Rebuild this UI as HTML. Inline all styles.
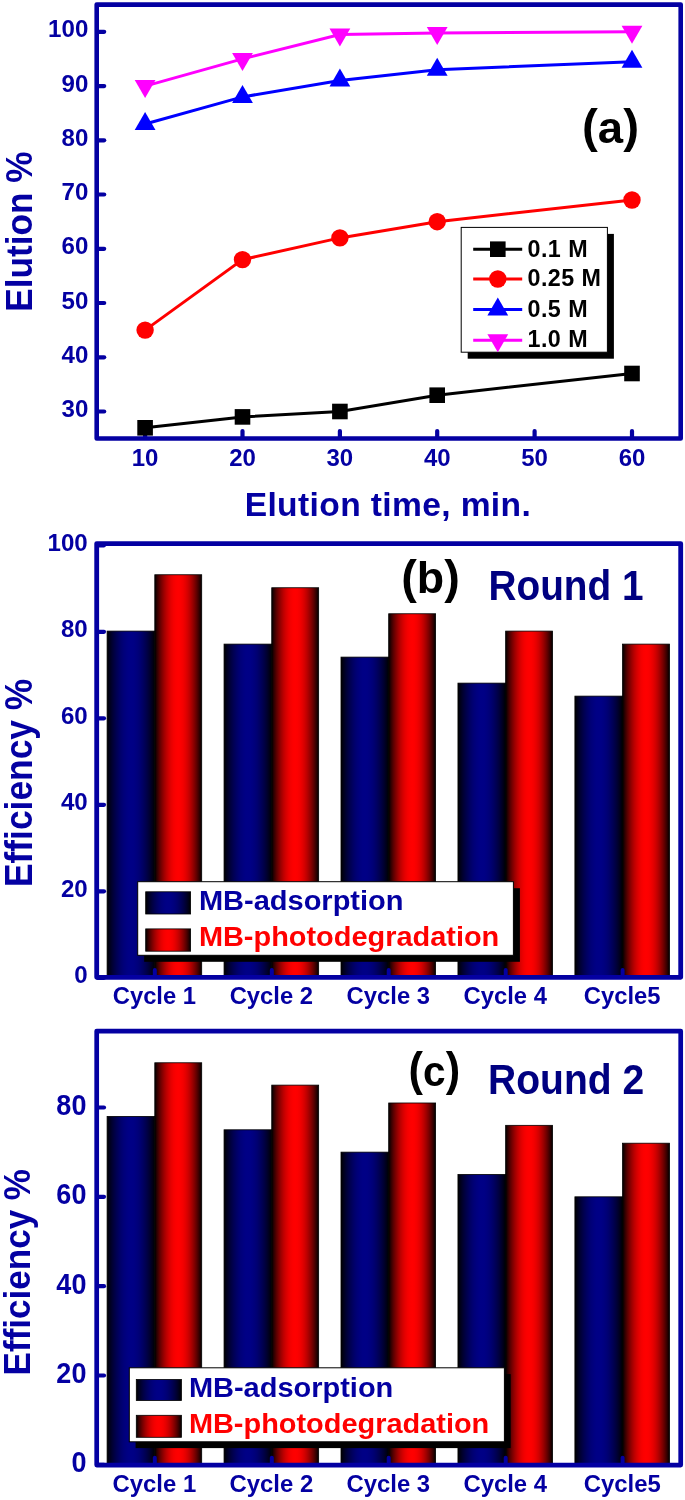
<!DOCTYPE html>
<html lang="en"><head><meta charset="utf-8"><title>Elution and recycling efficiency</title>
<style>html,body{margin:0;padding:0;background:#fff}svg{display:block}text{font-family:'Liberation Sans', sans-serif;font-weight:bold}</style></head><body>
<svg width="685" height="1500" viewBox="0 0 685 1500">
<defs><linearGradient id="gb" x1="0" x2="1" y1="0" y2="0"><stop offset="0.000" stop-color="#000000"/><stop offset="0.050" stop-color="#000019"/><stop offset="0.100" stop-color="#00002f"/><stop offset="0.150" stop-color="#000042"/><stop offset="0.200" stop-color="#000053"/><stop offset="0.250" stop-color="#000062"/><stop offset="0.300" stop-color="#00006f"/><stop offset="0.350" stop-color="#000079"/><stop offset="0.400" stop-color="#000080"/><stop offset="0.450" stop-color="#000085"/><stop offset="0.500" stop-color="#000086"/><stop offset="0.550" stop-color="#000085"/><stop offset="0.600" stop-color="#000080"/><stop offset="0.650" stop-color="#000079"/><stop offset="0.700" stop-color="#00006f"/><stop offset="0.750" stop-color="#000062"/><stop offset="0.800" stop-color="#000053"/><stop offset="0.850" stop-color="#000042"/><stop offset="0.900" stop-color="#00002f"/><stop offset="0.950" stop-color="#000019"/><stop offset="1.000" stop-color="#000000"/></linearGradient><linearGradient id="gr" x1="0" x2="1" y1="0" y2="0"><stop offset="0.000" stop-color="#000000"/><stop offset="0.050" stop-color="#300000"/><stop offset="0.100" stop-color="#590000"/><stop offset="0.150" stop-color="#7d0000"/><stop offset="0.200" stop-color="#9e0000"/><stop offset="0.250" stop-color="#bb0000"/><stop offset="0.300" stop-color="#d30000"/><stop offset="0.350" stop-color="#e60000"/><stop offset="0.400" stop-color="#f40000"/><stop offset="0.450" stop-color="#fc0000"/><stop offset="0.500" stop-color="#ff0000"/><stop offset="0.550" stop-color="#fc0000"/><stop offset="0.600" stop-color="#f40000"/><stop offset="0.650" stop-color="#e60000"/><stop offset="0.700" stop-color="#d30000"/><stop offset="0.750" stop-color="#bb0000"/><stop offset="0.800" stop-color="#9e0000"/><stop offset="0.850" stop-color="#7d0000"/><stop offset="0.900" stop-color="#590000"/><stop offset="0.950" stop-color="#300000"/><stop offset="1.000" stop-color="#000000"/></linearGradient></defs>
<rect width="685" height="1500" fill="#fff"/>
<rect x="96.7" y="4.6" width="584.0" height="433.9" fill="none" stroke="#0400a2" stroke-width="4.6" stroke-linejoin="round"/>
<line x1="97.7" y1="411.5" x2="104.2" y2="411.5" stroke="#0400a2" stroke-width="4.2" stroke-linecap="round"/>
<text transform="translate(88.30 417.00) scale(1.0 0.985)" font-size="24.1" fill="#0400a2" text-anchor="end" >30</text>
<line x1="97.7" y1="357.3" x2="104.2" y2="357.3" stroke="#0400a2" stroke-width="4.2" stroke-linecap="round"/>
<text transform="translate(88.30 362.76) scale(1.0 0.985)" font-size="24.1" fill="#0400a2" text-anchor="end" >40</text>
<line x1="97.7" y1="303.0" x2="104.2" y2="303.0" stroke="#0400a2" stroke-width="4.2" stroke-linecap="round"/>
<text transform="translate(88.30 308.52) scale(1.0 0.985)" font-size="24.1" fill="#0400a2" text-anchor="end" >50</text>
<line x1="97.7" y1="248.8" x2="104.2" y2="248.8" stroke="#0400a2" stroke-width="4.2" stroke-linecap="round"/>
<text transform="translate(88.30 254.28) scale(1.0 0.985)" font-size="24.1" fill="#0400a2" text-anchor="end" >60</text>
<line x1="97.7" y1="194.5" x2="104.2" y2="194.5" stroke="#0400a2" stroke-width="4.2" stroke-linecap="round"/>
<text transform="translate(88.30 200.04) scale(1.0 0.985)" font-size="24.1" fill="#0400a2" text-anchor="end" >70</text>
<line x1="97.7" y1="140.3" x2="104.2" y2="140.3" stroke="#0400a2" stroke-width="4.2" stroke-linecap="round"/>
<text transform="translate(88.30 145.80) scale(1.0 0.985)" font-size="24.1" fill="#0400a2" text-anchor="end" >80</text>
<line x1="97.7" y1="86.1" x2="104.2" y2="86.1" stroke="#0400a2" stroke-width="4.2" stroke-linecap="round"/>
<text transform="translate(88.30 91.56) scale(1.0 0.985)" font-size="24.1" fill="#0400a2" text-anchor="end" >90</text>
<line x1="97.7" y1="31.8" x2="104.2" y2="31.8" stroke="#0400a2" stroke-width="4.2" stroke-linecap="round"/>
<text transform="translate(88.30 37.32) scale(1.0 0.985)" font-size="24.1" fill="#0400a2" text-anchor="end" >100</text>
<line x1="145.1" y1="437.5" x2="145.1" y2="431.0" stroke="#0400a2" stroke-width="4.2" stroke-linecap="round"/>
<text transform="translate(145.10 465.70) scale(1.0 0.985)" font-size="24.0" fill="#0400a2" text-anchor="middle" >10</text>
<line x1="242.5" y1="437.5" x2="242.5" y2="431.0" stroke="#0400a2" stroke-width="4.2" stroke-linecap="round"/>
<text transform="translate(242.48 465.70) scale(1.0 0.985)" font-size="24.0" fill="#0400a2" text-anchor="middle" >20</text>
<line x1="339.9" y1="437.5" x2="339.9" y2="431.0" stroke="#0400a2" stroke-width="4.2" stroke-linecap="round"/>
<text transform="translate(339.86 465.70) scale(1.0 0.985)" font-size="24.0" fill="#0400a2" text-anchor="middle" >30</text>
<line x1="437.2" y1="437.5" x2="437.2" y2="431.0" stroke="#0400a2" stroke-width="4.2" stroke-linecap="round"/>
<text transform="translate(437.24 465.70) scale(1.0 0.985)" font-size="24.0" fill="#0400a2" text-anchor="middle" >40</text>
<line x1="534.6" y1="437.5" x2="534.6" y2="431.0" stroke="#0400a2" stroke-width="4.2" stroke-linecap="round"/>
<text transform="translate(534.62 465.70) scale(1.0 0.985)" font-size="24.0" fill="#0400a2" text-anchor="middle" >50</text>
<line x1="632.0" y1="437.5" x2="632.0" y2="431.0" stroke="#0400a2" stroke-width="4.2" stroke-linecap="round"/>
<text transform="translate(632.00 465.70) scale(1.0 0.985)" font-size="24.0" fill="#0400a2" text-anchor="middle" >60</text>
<polyline points="145.1,427.8 242.5,416.9 339.9,411.5 437.2,395.2 632.0,373.5" fill="none" stroke="#000000" stroke-width="3.0"/>
<rect x="137.3" y="420.0" width="15.6" height="15.6" fill="#000000"/>
<rect x="234.7" y="409.1" width="15.6" height="15.6" fill="#000000"/>
<rect x="332.1" y="403.7" width="15.6" height="15.6" fill="#000000"/>
<rect x="429.4" y="387.4" width="15.6" height="15.6" fill="#000000"/>
<rect x="624.2" y="365.7" width="15.6" height="15.6" fill="#000000"/>
<polyline points="145.1,330.1 242.5,259.6 339.9,237.9 437.2,221.7 632.0,200.0" fill="none" stroke="#ff0000" stroke-width="3.0"/>
<circle cx="145.1" cy="330.1" r="8.7" fill="#ff0000"/>
<circle cx="242.5" cy="259.6" r="8.7" fill="#ff0000"/>
<circle cx="339.9" cy="237.9" r="8.7" fill="#ff0000"/>
<circle cx="437.2" cy="221.7" r="8.7" fill="#ff0000"/>
<circle cx="632.0" cy="200.0" r="8.7" fill="#ff0000"/>
<polyline points="145.1,124.0 242.5,96.9 339.9,80.6 437.2,69.8 632.0,61.7" fill="none" stroke="#0000ff" stroke-width="3.0"/>
<polygon points="134.7,130.0 155.5,130.0 145.1,112.0" fill="#0000ff"/>
<polygon points="232.1,102.9 252.9,102.9 242.5,84.9" fill="#0000ff"/>
<polygon points="329.5,86.6 350.3,86.6 339.9,68.6" fill="#0000ff"/>
<polygon points="426.8,75.8 447.6,75.8 437.2,57.8" fill="#0000ff"/>
<polygon points="621.6,67.7 642.4,67.7 632.0,49.7" fill="#0000ff"/>
<polyline points="145.1,86.1 242.5,58.9 339.9,34.5 437.2,32.9 632.0,31.8" fill="none" stroke="#ff00ff" stroke-width="3.0"/>
<polygon points="134.7,80.1 155.5,80.1 145.1,98.1" fill="#ff00ff"/>
<polygon points="232.1,52.9 252.9,52.9 242.5,70.9" fill="#ff00ff"/>
<polygon points="329.5,28.5 350.3,28.5 339.9,46.5" fill="#ff00ff"/>
<polygon points="426.8,26.9 447.6,26.9 437.2,44.9" fill="#ff00ff"/>
<polygon points="621.6,25.8 642.4,25.8 632.0,43.8" fill="#ff00ff"/>
<text x="387.90" y="516.30" font-size="33.6" fill="#0400a2" text-anchor="middle" letter-spacing="0.37">Elution time, min.</text>
<text transform="translate(31.90 231.60) rotate(-90) scale(1.0 1.06)" font-size="35.2" fill="#0400a2" text-anchor="middle">Elution %</text>
<text x="582.00" y="141.80" fill="#000" textLength="57.0" lengthAdjust="spacingAndGlyphs" font-size="46">(<tspan font-size="44" dy="0.8">a</tspan><tspan dy="-0.8">)</tspan></text>
<rect x="467.7" y="233.9" width="146.2" height="124.79999999999998" fill="#000"/>
<rect x="461.2" y="227.4" width="146.2" height="124.79999999999998" fill="#fff" stroke="#000" stroke-width="1"/>
<line x1="473.2" y1="249.2" x2="522.2" y2="249.2" stroke="#000000" stroke-width="3"/>
<rect x="490.0" y="241.4" width="15.6" height="15.6" fill="#000000"/>
<text x="527.60" y="256.60" font-size="23.3" fill="#000" text-anchor="start" letter-spacing="0.42">0.1 M</text>
<line x1="473.2" y1="279.0" x2="522.2" y2="279.0" stroke="#ff0000" stroke-width="3"/>
<circle cx="497.8" cy="279.0" r="8.7" fill="#ff0000"/>
<text x="527.60" y="286.40" font-size="23.3" fill="#000" text-anchor="start" letter-spacing="0.42">0.25 M</text>
<line x1="473.2" y1="309.6" x2="522.2" y2="309.6" stroke="#0000ff" stroke-width="3"/>
<polygon points="487.4,315.6 508.2,315.6 497.8,297.6" fill="#0000ff"/>
<text x="527.60" y="316.50" font-size="23.3" fill="#000" text-anchor="start" letter-spacing="0.42">0.5 M</text>
<line x1="473.2" y1="340.3" x2="522.2" y2="340.3" stroke="#ff00ff" stroke-width="3"/>
<polygon points="487.4,334.3 508.2,334.3 497.8,352.3" fill="#ff00ff"/>
<text x="527.60" y="346.60" font-size="23.3" fill="#000" text-anchor="start" letter-spacing="0.42">1.0 M</text>
<rect x="107.10" y="631.10" width="47.70" height="346.80" fill="url(#gb)" stroke="#000" stroke-width="0.8"/>
<rect x="154.80" y="574.75" width="46.90" height="403.15" fill="url(#gr)" stroke="#000" stroke-width="0.8"/>
<rect x="224.05" y="644.11" width="47.70" height="333.79" fill="url(#gb)" stroke="#000" stroke-width="0.8"/>
<rect x="271.75" y="587.75" width="46.90" height="390.15" fill="url(#gr)" stroke="#000" stroke-width="0.8"/>
<rect x="341.00" y="657.11" width="47.70" height="320.79" fill="url(#gb)" stroke="#000" stroke-width="0.8"/>
<rect x="388.70" y="613.76" width="46.90" height="364.14" fill="url(#gr)" stroke="#000" stroke-width="0.8"/>
<rect x="457.95" y="683.12" width="47.70" height="294.78" fill="url(#gb)" stroke="#000" stroke-width="0.8"/>
<rect x="505.65" y="631.10" width="46.90" height="346.80" fill="url(#gr)" stroke="#000" stroke-width="0.8"/>
<rect x="574.90" y="696.12" width="47.70" height="281.77" fill="url(#gb)" stroke="#000" stroke-width="0.8"/>
<rect x="622.60" y="644.11" width="46.90" height="333.79" fill="url(#gr)" stroke="#000" stroke-width="0.8"/>
<rect x="96.7" y="543.6" width="584.0" height="433.69999999999993" fill="none" stroke="#0400a2" stroke-width="4.8" stroke-linejoin="round"/>
<line x1="97.7" y1="977.8" x2="104.0" y2="977.8" stroke="#0400a2" stroke-width="4.2" stroke-linecap="round"/>
<text transform="translate(87.70 983.20) scale(1 0.98)" font-size="24.1" fill="#0400a2" text-anchor="end" >0</text>
<line x1="97.7" y1="891.3" x2="104.0" y2="891.3" stroke="#0400a2" stroke-width="4.2" stroke-linecap="round"/>
<text transform="translate(87.70 896.76) scale(1 0.98)" font-size="24.1" fill="#0400a2" text-anchor="end" >20</text>
<line x1="97.7" y1="804.8" x2="104.0" y2="804.8" stroke="#0400a2" stroke-width="4.2" stroke-linecap="round"/>
<text transform="translate(87.70 810.32) scale(1 0.98)" font-size="24.1" fill="#0400a2" text-anchor="end" >40</text>
<line x1="97.7" y1="718.3" x2="104.0" y2="718.3" stroke="#0400a2" stroke-width="4.2" stroke-linecap="round"/>
<text transform="translate(87.70 723.88) scale(1 0.98)" font-size="24.1" fill="#0400a2" text-anchor="end" >60</text>
<line x1="97.7" y1="631.8" x2="104.0" y2="631.8" stroke="#0400a2" stroke-width="4.2" stroke-linecap="round"/>
<text transform="translate(87.70 637.44) scale(1 0.98)" font-size="24.1" fill="#0400a2" text-anchor="end" >80</text>
<line x1="97.7" y1="545.3" x2="104.0" y2="545.3" stroke="#0400a2" stroke-width="4.2" stroke-linecap="round"/>
<text transform="translate(87.70 551.00) scale(1 0.98)" font-size="24.1" fill="#0400a2" text-anchor="end" >100</text>
<line x1="154.8" y1="976.3" x2="154.8" y2="970.0" stroke="#0400a2" stroke-width="4.0" stroke-linecap="round"/>
<text x="154.40" y="1004.30" font-size="23.8" fill="#0400a2" text-anchor="middle" >Cycle 1</text>
<line x1="271.8" y1="976.3" x2="271.8" y2="970.0" stroke="#0400a2" stroke-width="4.0" stroke-linecap="round"/>
<text x="271.35" y="1004.30" font-size="23.8" fill="#0400a2" text-anchor="middle" >Cycle 2</text>
<line x1="388.7" y1="976.3" x2="388.7" y2="970.0" stroke="#0400a2" stroke-width="4.0" stroke-linecap="round"/>
<text x="388.30" y="1004.30" font-size="23.8" fill="#0400a2" text-anchor="middle" >Cycle 3</text>
<line x1="505.7" y1="976.3" x2="505.7" y2="970.0" stroke="#0400a2" stroke-width="4.0" stroke-linecap="round"/>
<text x="505.25" y="1004.30" font-size="23.8" fill="#0400a2" text-anchor="middle" >Cycle 4</text>
<line x1="622.6" y1="976.3" x2="622.6" y2="970.0" stroke="#0400a2" stroke-width="4.0" stroke-linecap="round"/>
<text x="622.20" y="1004.30" font-size="23.8" fill="#0400a2" text-anchor="middle" >Cycle5</text>
<text transform="translate(31.80 782.90) rotate(-90) scale(1 1.07)" font-size="35.4" fill="#0400a2" text-anchor="middle">Efficiency %</text>
<text x="401.20" y="592.70" fill="#000" textLength="58.6" lengthAdjust="spacingAndGlyphs" font-size="46">(<tspan font-size="44" dy="0">b</tspan><tspan dy="0">)</tspan></text>
<text x="488.50" y="600.00" font-size="42" fill="#000080" text-anchor="start" textLength="155.0" lengthAdjust="spacingAndGlyphs" >Round 1</text>
<rect x="144.2" y="888.2" width="375.7" height="73.59999999999991" fill="#000"/>
<rect x="137.7" y="881.7" width="375.7" height="73.59999999999991" fill="#fff" stroke="#000" stroke-width="1"/>
<rect x="145.7" y="891.8" width="44.900000000000006" height="22.200000000000045" fill="url(#gb)" stroke="#000" stroke-width="0.8"/>
<text x="198.90" y="910.10" font-size="28" fill="#0400a2" text-anchor="start" textLength="204.6" lengthAdjust="spacingAndGlyphs" >MB-adsorption</text>
<rect x="145.7" y="928.9" width="44.900000000000006" height="22.300000000000068" fill="url(#gr)" stroke="#000" stroke-width="0.8"/>
<text x="198.90" y="946.40" font-size="28" fill="#ff0000" text-anchor="start" textLength="300.4" lengthAdjust="spacingAndGlyphs" >MB-photodegradation</text>
<rect x="107.10" y="1116.40" width="47.70" height="348.50" fill="url(#gb)" stroke="#000" stroke-width="0.8"/>
<rect x="154.80" y="1062.78" width="46.90" height="402.12" fill="url(#gr)" stroke="#000" stroke-width="0.8"/>
<rect x="224.05" y="1129.80" width="47.70" height="335.10" fill="url(#gb)" stroke="#000" stroke-width="0.8"/>
<rect x="271.75" y="1085.12" width="46.90" height="379.78" fill="url(#gr)" stroke="#000" stroke-width="0.8"/>
<rect x="341.00" y="1152.14" width="47.70" height="312.76" fill="url(#gb)" stroke="#000" stroke-width="0.8"/>
<rect x="388.70" y="1102.99" width="46.90" height="361.91" fill="url(#gr)" stroke="#000" stroke-width="0.8"/>
<rect x="457.95" y="1174.48" width="47.70" height="290.42" fill="url(#gb)" stroke="#000" stroke-width="0.8"/>
<rect x="505.65" y="1125.33" width="46.90" height="339.57" fill="url(#gr)" stroke="#000" stroke-width="0.8"/>
<rect x="574.90" y="1196.82" width="47.70" height="268.08" fill="url(#gb)" stroke="#000" stroke-width="0.8"/>
<rect x="622.60" y="1143.20" width="46.90" height="321.70" fill="url(#gr)" stroke="#000" stroke-width="0.8"/>
<rect x="96.7" y="1031.1" width="584.0" height="434.0" fill="none" stroke="#0400a2" stroke-width="4.7" stroke-linejoin="round"/>
<line x1="97.7" y1="1464.9" x2="104.0" y2="1464.9" stroke="#0400a2" stroke-width="4.2" stroke-linecap="round"/>
<text transform="translate(86.40 1472.40) scale(1 1.1)" font-size="27.0" fill="#0400a2" text-anchor="end" >0</text>
<line x1="97.7" y1="1375.5" x2="104.0" y2="1375.5" stroke="#0400a2" stroke-width="4.2" stroke-linecap="round"/>
<text transform="translate(86.40 1383.04) scale(1 1.1)" font-size="27.0" fill="#0400a2" text-anchor="end" >20</text>
<line x1="97.7" y1="1286.2" x2="104.0" y2="1286.2" stroke="#0400a2" stroke-width="4.2" stroke-linecap="round"/>
<text transform="translate(86.40 1293.68) scale(1 1.1)" font-size="27.0" fill="#0400a2" text-anchor="end" >40</text>
<line x1="97.7" y1="1196.8" x2="104.0" y2="1196.8" stroke="#0400a2" stroke-width="4.2" stroke-linecap="round"/>
<text transform="translate(86.40 1204.32) scale(1 1.1)" font-size="27.0" fill="#0400a2" text-anchor="end" >60</text>
<line x1="97.7" y1="1107.5" x2="104.0" y2="1107.5" stroke="#0400a2" stroke-width="4.2" stroke-linecap="round"/>
<text transform="translate(86.40 1114.96) scale(1 1.1)" font-size="27.0" fill="#0400a2" text-anchor="end" >80</text>
<line x1="154.8" y1="1464.1" x2="154.8" y2="1457.8" stroke="#0400a2" stroke-width="4.0" stroke-linecap="round"/>
<text x="154.40" y="1492.10" font-size="23.9" fill="#0400a2" text-anchor="middle" >Cycle 1</text>
<line x1="271.8" y1="1464.1" x2="271.8" y2="1457.8" stroke="#0400a2" stroke-width="4.0" stroke-linecap="round"/>
<text x="271.35" y="1492.10" font-size="23.9" fill="#0400a2" text-anchor="middle" >Cycle 2</text>
<line x1="388.7" y1="1464.1" x2="388.7" y2="1457.8" stroke="#0400a2" stroke-width="4.0" stroke-linecap="round"/>
<text x="388.30" y="1492.10" font-size="23.9" fill="#0400a2" text-anchor="middle" >Cycle 3</text>
<line x1="505.7" y1="1464.1" x2="505.7" y2="1457.8" stroke="#0400a2" stroke-width="4.0" stroke-linecap="round"/>
<text x="505.25" y="1492.10" font-size="23.9" fill="#0400a2" text-anchor="middle" >Cycle 4</text>
<line x1="622.6" y1="1464.1" x2="622.6" y2="1457.8" stroke="#0400a2" stroke-width="4.0" stroke-linecap="round"/>
<text x="622.20" y="1492.10" font-size="23.9" fill="#0400a2" text-anchor="middle" >Cycle5</text>
<text transform="translate(29.80 1272.20) rotate(-90) scale(1 1.04)" font-size="35.05" fill="#0400a2" text-anchor="middle">Efficiency %</text>
<text x="408.60" y="1085.30" fill="#000" textLength="51.5" lengthAdjust="spacingAndGlyphs" font-size="46">(<tspan font-size="43" dy="0.2">c</tspan><tspan dy="-0.2">)</tspan></text>
<text x="488.00" y="1094.40" font-size="42" fill="#000080" text-anchor="start" textLength="156.2" lengthAdjust="spacingAndGlyphs" >Round 2</text>
<rect x="135.60000000000002" y="1374.1" width="375.09999999999997" height="74.0" fill="#000"/>
<rect x="129.3" y="1367.8" width="375.09999999999997" height="74.0" fill="#fff" stroke="#000" stroke-width="1"/>
<rect x="136.3" y="1379.5" width="45.099999999999994" height="21.0" fill="url(#gb)" stroke="#000" stroke-width="0.8"/>
<text x="188.90" y="1396.80" font-size="28" fill="#0400a2" text-anchor="start" textLength="204.4" lengthAdjust="spacingAndGlyphs" >MB-adsorption</text>
<rect x="136.3" y="1415.3" width="45.099999999999994" height="22.0" fill="url(#gr)" stroke="#000" stroke-width="0.8"/>
<text x="188.90" y="1432.60" font-size="28" fill="#ff0000" text-anchor="start" textLength="300.4" lengthAdjust="spacingAndGlyphs" >MB-photodegradation</text>
</svg></body></html>
